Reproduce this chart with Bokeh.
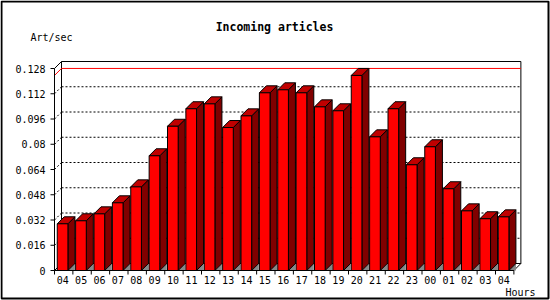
import numpy as np
from bokeh.plotting import figure
from bokeh.models import ColumnDataSource, Label
from bokeh.core.properties import value
from bokeh.embed import file_html
from bokeh.resources import INLINE

# ---------------- data ----------------
hours = ["04", "05", "06", "07", "08", "09", "10", "11", "12", "13", "14", "15",
         "16", "17", "18", "19", "20", "21", "22", "23", "00", "01", "02", "03", "04"]
rates = [0.0296, 0.0315, 0.0359, 0.0429, 0.0530, 0.0727, 0.0914, 0.1025, 0.1056,
         0.0906, 0.0980, 0.1126, 0.1145, 0.1126, 0.1037, 0.1012, 0.1236, 0.0847,
         0.1025, 0.0670, 0.0784, 0.0518, 0.0378, 0.0328, 0.0340]
y_ticks = [0, 0.016, 0.032, 0.048, 0.064, 0.080, 0.096, 0.112, 0.128]
y_tick_labels = ["0", "0.016", "0.032", "0.048", "0.064", "0.08", "0.096", "0.112", "0.128"]
title_text = "Incoming articles"
y_unit = "Art/sec"
x_unit = "Hours"

# ---------------- layout ----------------
W, H = 550, 300
X0_PX, Y0_PX = 54, 270          # front origin in pixels
SX = 18.375                     # px per category slot
SY = 25.25 / 0.016              # px per value unit
DEPTH = 7                       # 3D depth in px
dx, dy = DEPTH / SX, DEPTH / SY
FONT = "DejaVu Sans Mono"

n = len(rates)
ymax_axis = y_ticks[-1]

p = figure(width=W, height=H,
           x_range=(-X0_PX / SX, (W - X0_PX) / SX),
           y_range=(-(H - Y0_PX) / SY, Y0_PX / SY),
           x_axis_location=None, y_axis_location=None,
           toolbar_location=None, output_backend="svg",
           min_border=0, background_fill_color="white",
           border_fill_color="white")
p.grid.visible = False
p.outline_line_color = None

# image border (2px, slightly inset)
p.quad(left=(1 - X0_PX) / SX, right=(W - 2 - X0_PX) / SX,
       bottom=-(H - 2 - Y0_PX) / SY, top=(Y0_PX - 1) / SY,
       fill_color=None, line_color="black", line_width=2)

# back wall
p.quad(left=dx, right=n + dx, bottom=dy, top=ymax_axis + dy,
       fill_color="white", line_color="black", line_width=1)

# dotted grid lines on back wall + diagonal stubs on left wall
grid_vals = [v for v in y_ticks[1:-1]]
p.segment(x0=[dx] * len(grid_vals), y0=[v + dy for v in grid_vals],
          x1=[n + dx] * len(grid_vals), y1=[v + dy for v in grid_vals],
          line_color="black", line_dash="2 2", line_width=1)
p.segment(x0=[0] * len(grid_vals), y0=grid_vals,
          x1=[dx] * len(grid_vals), y1=[v + dy for v in grid_vals],
          line_color="black", line_dash="2 2", line_width=1)

# solid corner diagonals
p.segment(x0=[0, 0, n], y0=[0, ymax_axis, 0],
          x1=[dx, dx, n + dx], y1=[dy, ymax_axis + dy, dy],
          line_color="black", line_width=1)

# max line (red)
mx = max(rates)
p.line(x=[0, dx, n + dx], y=[mx, mx + dy, mx + dy], line_color="red", line_width=1)

# bars
idx = np.arange(n)
vals = np.array(rates)
left = idx + 0.15
right = idx + 0.73

shadow_xs = [[r, r + dx, r + dx] for r in right]
shadow_ys = [[0, dy, 0] for _ in right]
p.patches(xs=shadow_xs, ys=shadow_ys, fill_color="#888888", line_color=None)

side_xs = [[r, r + dx, r + dx, r] for r in right]
side_ys = [[0, dy, v + dy, v] for v in vals]
p.patches(xs=side_xs, ys=side_ys, fill_color="#800000", line_color="black", line_width=1)

top_xs = [[l, l + dx, r + dx, r] for l, r in zip(left, right)]
top_ys = [[v, v + dy, v + dy, v] for v in vals]
p.patches(xs=top_xs, ys=top_ys, fill_color="#C00000", line_color="black", line_width=1)

p.quad(left=left, right=right, bottom=0, top=vals,
       fill_color="#FF0000", line_color="black", line_width=1)

# front axes lines
p.segment(x0=[0, 0], y0=[0, 0], x1=[0, n], y1=[ymax_axis, 0],
          line_color="black", line_width=1)

# y ticks + labels
p.segment(x0=[-4 / SX] * len(y_ticks), y0=y_ticks, x1=[0] * len(y_ticks), y1=y_ticks,
          line_color="black", line_width=1)
ysrc = ColumnDataSource(dict(x=[-9 / SX] * len(y_ticks), y=y_ticks, t=y_tick_labels))
p.text(x="x", y="y", text="t", source=ysrc, text_align="right", text_baseline="middle",
       text_font=value(FONT), text_font_size="10px", text_color="black")

# x ticks + labels
p.segment(x0=list(range(n + 1)), y0=[0] * (n + 1), x1=list(range(n + 1)),
          y1=[-4 / SY] * (n + 1), line_color="black", line_width=1)
xsrc = ColumnDataSource(dict(x=idx + 0.45, y=[-9.5 / SY] * n, t=hours))
p.text(x="x", y="y", text="t", source=xsrc, text_align="center", text_baseline="middle",
       text_font=value(FONT), text_font_size="10px", text_color="black")

# titles
p.add_layout(Label(x=274, y=H - 26.5, x_units="screen", y_units="screen", text=title_text,
                   text_align="center", text_baseline="middle", text_font=FONT,
                   text_font_size="11.5px", text_font_style="bold", text_color="black"))
p.add_layout(Label(x=30, y=H - 36.7, x_units="screen", y_units="screen", text=y_unit,
                   text_align="left", text_baseline="middle", text_font=FONT,
                   text_font_size="10px", text_color="black"))
p.add_layout(Label(x=505, y=H - 292, x_units="screen", y_units="screen", text=x_unit,
                   text_align="left", text_baseline="middle", text_font=FONT,
                   text_font_size="10px", text_color="black"))

open("out.html", "w").write(file_html(p, INLINE))
